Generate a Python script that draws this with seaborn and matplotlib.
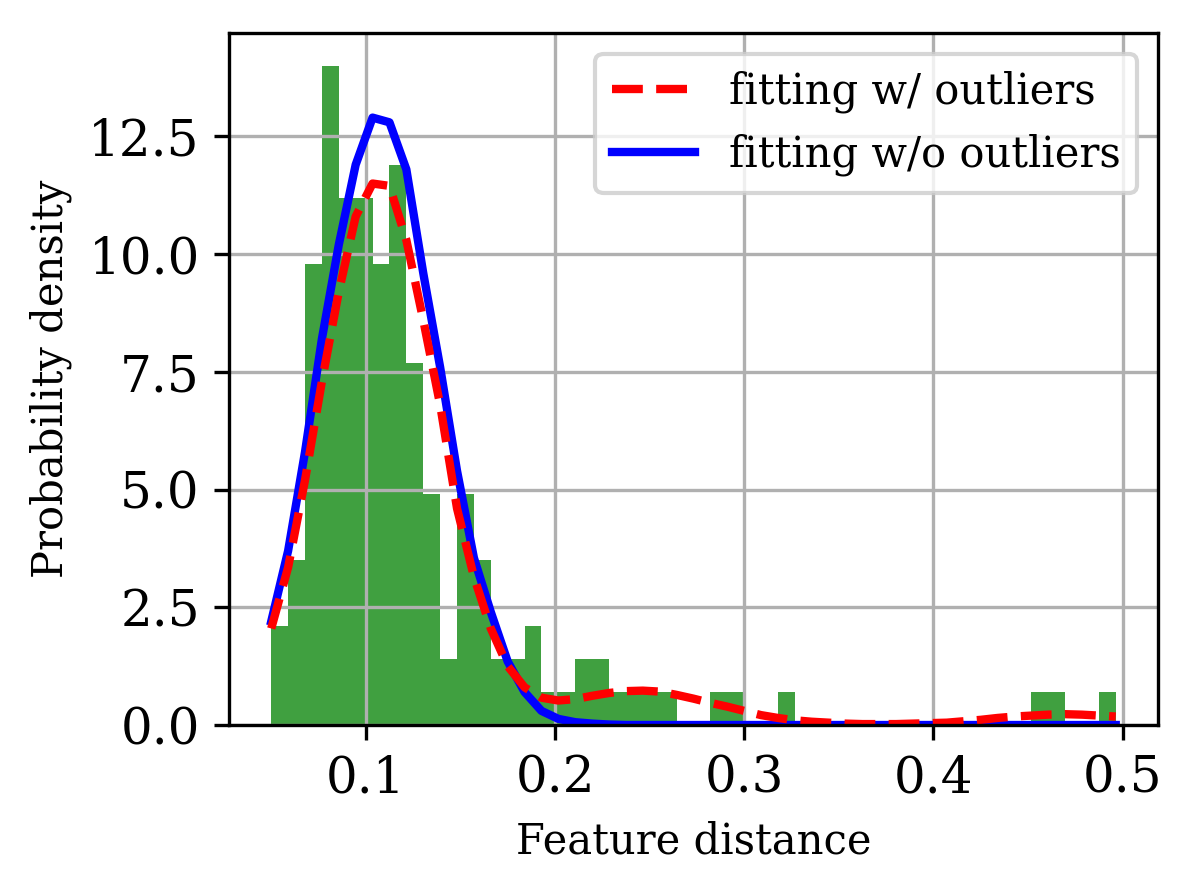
import numpy as np
import pandas as pd
import matplotlib
matplotlib.use("Agg")
import matplotlib.pyplot as plt
import seaborn as sns

# ---------------------------
# DATA
# ---------------------------
bin_lo = 0.0499
bin_hi = 0.4964
n_bins = 50

# samples per bin (160 in total)
counts = [3, 5, 14, 20, 16, 16, 14, 17, 11, 7,
          2, 7, 5, 2, 2, 3, 1, 1, 2, 2,
          1, 1, 1, 1, 0, 0, 1, 1, 0, 0,
          1, 0, 0, 0, 0, 0, 0, 0, 0, 0,
          0, 0, 0, 0, 0, 1, 1, 0, 0, 1]

# fitted densities, evaluated at the bin edges
fit_with_outliers = [2.05, 3.35, 5.2, 7.3, 9.2, 10.8, 11.5, 11.45, 10.3, 8.6,
                     6.8, 4.6, 3.15, 2.05, 1.25, 0.8, 0.58, 0.52, 0.55, 0.62,
                     0.68, 0.72, 0.73, 0.71, 0.64, 0.56, 0.47, 0.39, 0.3, 0.21,
                     0.15, 0.1, 0.07, 0.05, 0.03, 0.02, 0.02, 0.02, 0.03, 0.04,
                     0.05, 0.08, 0.11, 0.15, 0.18, 0.2, 0.22, 0.23, 0.22, 0.2,
                     0.18]
fit_without_outliers = [2.2, 3.7, 5.8, 8.2, 10.2, 11.9, 12.9, 12.8, 11.8, 9.6,
                        7.6, 5.4, 3.55, 2.4, 1.35, 0.7, 0.3, 0.13, 0.06, 0.03,
                        0.01, 0.0, 0.0, 0.0, 0.0, 0.0, 0.0, 0.0, 0.0, 0.0,
                        0.0, 0.0, 0.0, 0.0, 0.0, 0.0, 0.0, 0.0, 0.0, 0.0,
                        0.0, 0.0, 0.0, 0.0, 0.0, 0.0, 0.0, 0.0, 0.0, 0.0,
                        0.0]

edges = np.linspace(bin_lo, bin_hi, n_bins + 1)
centers = (edges[:-1] + edges[1:]) / 2
hist_df = pd.DataFrame({'dist': centers, 'count': counts})

# ---------------------------
# PLOT
# ---------------------------
plt.rcParams['font.family'] = 'DejaVu Serif'
plt.rcParams['axes.axisbelow'] = 'line'

fig = plt.figure(figsize=(3.98, 2.97), dpi=300)
ax = fig.add_axes([0.1918, 0.1863, 0.778, 0.7767])

sns.histplot(data=hist_df, x='dist', weights='count', bins=n_bins,
             binrange=(bin_lo, bin_hi), stat='density',
             color='g', alpha=0.75, linewidth=0, ax=ax)

l_wo, = ax.plot(edges, fit_without_outliers, 'b-', lw=2, label='fitting w/o outliers')
l_w, = ax.plot(edges, fit_with_outliers, 'r--', lw=2, label='fitting w/ outliers')

ax.grid(True)
ax.set_xlabel('Feature distance', fontsize=10)
ax.set_ylabel('Probability density', fontsize=10)
ax.tick_params(labelsize=12)
ax.legend(handles=[l_w, l_wo], loc='upper right', fontsize=10)

fig.savefig('out.png', dpi=300)
